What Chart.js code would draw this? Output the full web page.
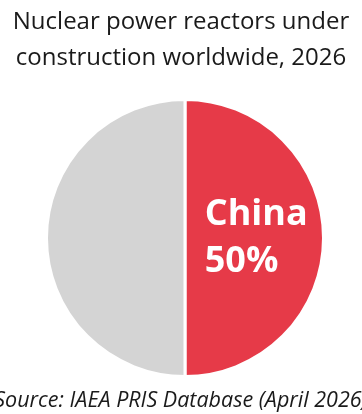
<!DOCTYPE html>
<html>
<head>
<meta charset="utf-8">
<script src="https://cdn.jsdelivr.net/npm/chart.js@4/dist/chart.umd.min.js"></script>
<style>
  html, body { margin: 0; padding: 0; background: #ffffff; }
  #wrap { width: 362px; height: 414px; position: relative; }
</style>
</head>
<body>
<div id="wrap"><canvas id="c"></canvas></div>
<script>
// Share of reactors under construction
const categories = ["China", "Rest of world"];
const shares = [50, 50];
const sliceColors = ["#E63A48", "#D4D4D4"];
const titleLines = ["Nuclear power reactors under", "construction worldwide, 2026"];
const sourceNote = "Source: IAEA PRIS Database (April 2026)";

// Heading above the pie and source note beneath it
const headings = {
  id: "headings",
  afterDraw(chart) {
    const ctx = chart.ctx;
    const cx = 181;
    ctx.save();
    ctx.fillStyle = "#1a1a1a";
    ctx.textAlign = "center";
    ctx.textBaseline = "alphabetic";
    ctx.font = "24px 'Open Sans'";
    ctx.fillText(titleLines[0], cx, 29);
    ctx.fillText(titleLines[1], cx, 65);
    ctx.font = "italic 21.5px 'Open Sans'";
    ctx.fillText(sourceNote, cx, 407);
    ctx.restore();
  }
};

// Writes the category name and its share inside the highlighted slice
const sliceLabel = {
  id: "sliceLabel",
  afterDatasetsDraw(chart) {
    const meta = chart.getDatasetMeta(0);
    const arc = meta.data[0];
    if (!arc) return;
    const p = arc.getCenterPoint();
    const ds = chart.data.datasets[0].data;
    const total = ds.reduce((a, b) => a + b, 0);
    const pct = Math.round(ds[0] / total * 100) + "%";
    const ctx = chart.ctx;
    ctx.save();
    ctx.font = "bold 36px 'Open Sans'";
    ctx.fillStyle = "#ffffff";
    ctx.textAlign = "left";
    ctx.textBaseline = "alphabetic";
    const w = Math.max(ctx.measureText(categories[0]).width, ctx.measureText(pct).width);
    const left = p.x - w / 2 + 2;
    ctx.fillText(categories[0], left, p.y - 13);
    ctx.fillText(pct, left, p.y + 34);
    ctx.restore();
  }
};

new Chart(document.getElementById("c"), {
  type: "pie",
  data: {
    labels: categories,
    datasets: [{
      data: shares,
      backgroundColor: sliceColors,
      borderColor: "#ffffff",
      borderWidth: 3
    }]
  },
  options: {
    responsive: true,
    maintainAspectRatio: false,
    animation: false,
    layout: { padding: { top: 98, bottom: 36, left: 8, right: 0 } },
    plugins: {
      legend: { display: false },
      tooltip: { enabled: false },
      title: { display: false }
    }
  },
  plugins: [sliceLabel, headings]
});
</script>
</body>
</html>
